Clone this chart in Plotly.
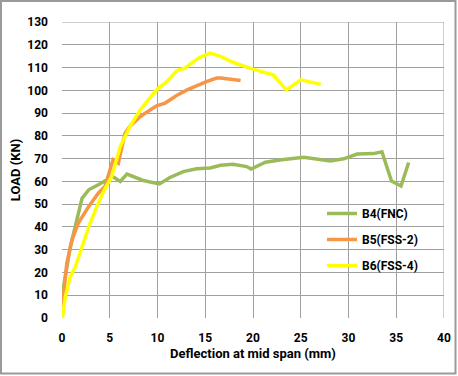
import plotly.graph_objects as go

b4_x = [0.05, 0.87, 2.1, 2.8, 3.8, 4.5, 5.3, 6.1, 6.8, 8.5, 10.2, 11.3, 12.7, 14.1, 15.5, 16.6, 17.9, 19.35, 19.8, 21.3, 22.8, 25.3, 28.1, 29.5, 30.9, 32.6, 33.5, 34.5, 35.5, 36.3]
b4_y = [11, 31.3, 52.6, 56.3, 58.5, 60, 62.1, 60, 63.2, 60.4, 58.9, 61.7, 64.3, 65.5, 65.9, 67.1, 67.5, 66.5, 65.4, 68.4, 69.4, 70.6, 69, 69.9, 72, 72.2, 73, 60.2, 58, 68.3]

b5_x = [0.05, 0.5, 1.05, 1.7, 2.8, 3.8, 4.5, 5.35, 5.9, 6.6, 7.1, 8.2, 9.9, 10.8, 12.0, 13.1, 15.2, 16.2, 16.6, 18.7]
b5_y = [5, 24, 34.3, 41.6, 49, 54.8, 57.7, 69.5, 68, 81.2, 84.1, 88.5, 93.2, 94.4, 97.7, 100.2, 103.9, 105.4, 105.4, 104.3]

b6_x = [0.05, 0.35, 0.87, 1.4, 2.1, 2.8, 3.5, 4.35, 5.2, 6.1, 7.1, 8.2, 9.9, 11.0, 12.0, 12.9, 14.3, 15.5, 16.6, 17.95, 20.0, 22.1, 23.5, 25.0, 27.1]
b6_y = [0, 9.4, 18.2, 22.5, 31.3, 40, 47.5, 55.5, 62.1, 75.3, 84, 91.4, 100.2, 103.9, 108.6, 109.8, 114.2, 116.3, 114.9, 112.2, 109.3, 106.8, 100.2, 104.6, 102.6]

x_ticks = [0, 5, 10, 15, 20, 25, 30, 35, 40]
y_ticks = list(range(0, 131, 10))

series = [
    ("B4(FNC)", b4_x, b4_y, "#9BBB59"),
    ("B5(FSS-2)", b5_x, b5_y, "#F79646"),
    ("B6(FSS-4)", b6_x, b6_y, "#FFFF00"),
]

fig = go.Figure()
for name, xs, ys, col in series:
    fig.add_trace(go.Scatter(x=xs, y=ys, mode="lines", name=name, legendgroup=name,
                             line=dict(color=col, width=3.5)))

font_fam = "Roboto, 'Open Sans', sans-serif"
W, H = 458, 376
L, R, T, B = 62, 14, 22, 58
pw, ph = W - L - R, H - T - B

fig.update_layout(
    width=W, height=H,
    margin=dict(l=L, r=R, t=T, b=B),
    paper_bgcolor="white", plot_bgcolor="white",
    font=dict(family=font_fam, color="black", size=12),
    showlegend=True,
    legend=dict(x=(322 - L) / pw, y=(H - B - 199) / ph, xanchor="left", yanchor="top",
                bgcolor="rgba(0,0,0,0)",
                font=dict(size=12, family=font_fam, color="black", weight="bold"),
                tracegroupgap=7, itemwidth=30),
    xaxis=dict(range=[0, 40], tickvals=x_ticks, showgrid=True, gridcolor="#a0a0a0", gridwidth=1,
               zeroline=False, showline=False, ticks="", automargin=False,
               ticklabelstandoff=11,
               tickfont=dict(size=12, weight="bold"),
               title=dict(text="Deflection at mid span (mm)", font=dict(size=13, weight="bold"), standoff=4)),
    yaxis=dict(range=[0, 130], tickvals=y_ticks, showgrid=True, gridcolor="#a0a0a0", gridwidth=1,
               zeroline=False, showline=False, ticks="", automargin=False,
               ticklabelstandoff=13,
               tickfont=dict(size=12, weight="bold"),
               title=dict(text="LOAD (KN)", font=dict(size=13, weight="bold"), standoff=3)),
    shapes=[
        dict(type="rect", xref="paper", yref="paper",
             x0=(1 - L) / pw, x1=(W - 2.5 - L) / pw,
             y0=-(H - 2.5 - T - ph) / ph, y1=1 + (T - 1) / ph,
             line=dict(color="#9a9a9a", width=2), fillcolor="rgba(0,0,0,0)", layer="below"),
        dict(type="line", xref="x", yref="paper", x0=40, x1=40, y0=0, y1=1,
             line=dict(color="#a0a0a0", width=1)),
        dict(type="line", xref="paper", yref="y", x0=0, x1=1, y0=130, y1=130,
             line=dict(color="#a0a0a0", width=1)),
    ],
)

fig.write_html("out.html", config={"displayModeBar": False},
               post_script="document.body.style.margin='0';document.body.style.overflow='hidden';")
